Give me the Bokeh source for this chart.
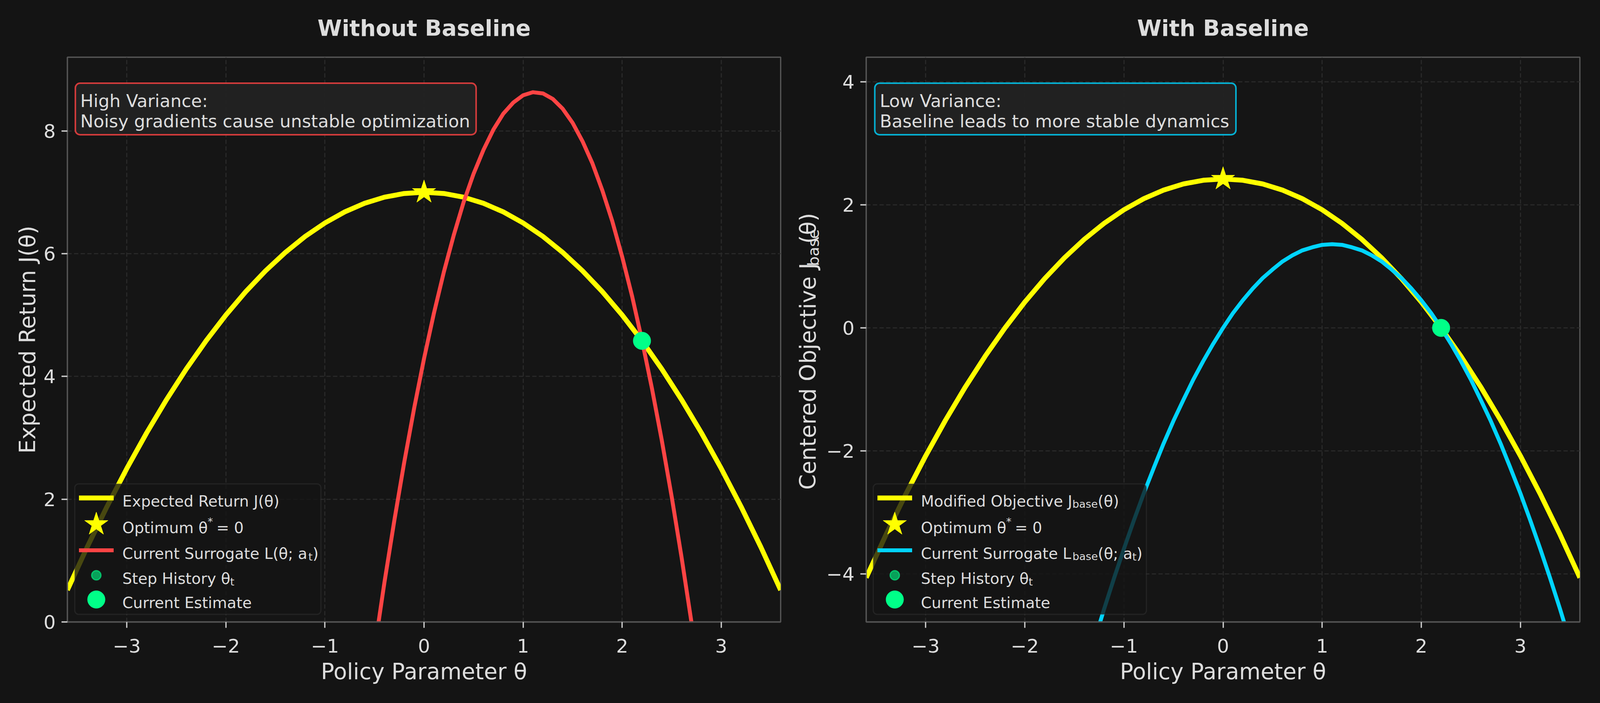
import math

from bokeh.plotting import figure
from bokeh.models import Label, BoxAnnotation, FixedTicker, Range1d
from bokeh.layouts import row, column
from bokeh.embed import file_html
from bokeh.resources import INLINE

# ---- data ----
theta_grid = [-3.6, -3.4, -3.2, -3.0, -2.8, -2.6, -2.4, -2.2, -2.0, -1.8, -1.6, -1.4,
              -1.2, -1.0, -0.8, -0.6, -0.4, -0.2, 0.0, 0.2, 0.4, 0.6, 0.8, 1.0,
              1.2, 1.4, 1.6, 1.8, 2.0, 2.2, 2.4, 2.6, 2.8, 3.0, 3.2, 3.4, 3.6]
expected_return = [0.52, 1.22, 1.88, 2.50, 3.08, 3.62, 4.12, 4.58, 5.00, 5.38, 5.72, 6.02,
                   6.28, 6.50, 6.68, 6.82, 6.92, 6.98, 7.00, 6.98, 6.92, 6.82, 6.68, 6.50,
                   6.28, 6.02, 5.72, 5.38, 5.00, 4.58, 4.12, 3.62, 3.08, 2.50, 1.88, 1.22, 0.52]
centered_objective = [-4.06, -3.36, -2.70, -2.08, -1.50, -0.96, -0.46, 0.00, 0.42, 0.80, 1.14, 1.44,
                      1.70, 1.92, 2.10, 2.24, 2.34, 2.40, 2.42, 2.40, 2.34, 2.24, 2.10, 1.92,
                      1.70, 1.44, 1.14, 0.80, 0.42, 0.00, -0.46, -0.96, -1.50, -2.08, -2.70, -3.36, -4.06]

surrogate_theta = [-0.5, -0.4, -0.3, -0.2, -0.1, 0.0, 0.1, 0.2, 0.3, 0.4, 0.5, 0.6,
                   0.7, 0.8, 0.9, 1.0, 1.1, 1.2, 1.3, 1.4, 1.5, 1.6, 1.7, 1.8,
                   1.9, 2.0, 2.1, 2.2, 2.3, 2.4, 2.5, 2.6, 2.7, 2.8]
surrogate_noisy = [-0.45, 0.64, 1.65, 2.60, 3.48, 4.29, 5.03, 5.70, 6.30, 6.84, 7.30, 7.69,
                   8.02, 8.28, 8.46, 8.58, 8.63, 8.61, 8.52, 8.36, 8.13, 7.83, 7.47, 7.03,
                   6.53, 5.95, 5.31, 4.59, 3.81, 2.96, 2.04, 1.05, -0.01, -1.14]

surrogate_base_theta = [-1.3, -1.2, -1.1, -1.0, -0.9, -0.8, -0.7, -0.6, -0.5, -0.4, -0.3, -0.2,
                        -0.1, 0.0, 0.1, 0.2, 0.3, 0.4, 0.5, 0.6, 0.7, 0.8, 0.9, 1.0,
                        1.1, 1.2, 1.3, 1.4, 1.5, 1.6, 1.7, 1.8, 1.9, 2.0, 2.1, 2.2,
                        2.3, 2.4, 2.5, 2.6, 2.7, 2.8, 2.9, 3.0, 3.1, 3.2, 3.3, 3.4, 3.5]
surrogate_base = [-5.10, -4.57, -4.07, -3.59, -3.13, -2.69, -2.28, -1.88, -1.51, -1.17, -0.84, -0.54,
                  -0.26, 0.00, 0.24, 0.45, 0.64, 0.81, 0.95, 1.08, 1.18, 1.26, 1.31, 1.35,
                  1.36, 1.35, 1.31, 1.26, 1.18, 1.08, 0.95, 0.81, 0.64, 0.45, 0.24, 0.00,
                  -0.26, -0.54, -0.84, -1.17, -1.51, -1.88, -2.28, -2.69, -3.13, -3.59, -4.07, -4.57, -5.10]

optimum_theta = [0.0]
optimum_return = [7.00]
optimum_centered = [2.42]
history_theta = [2.2]
history_return = [4.58]
history_centered = [0.00]
current_theta = [2.2]
current_return = [4.58]
current_centered = [0.00]

x_ticks = [-3, -2, -1, 0, 1, 2, 3]
x_tick_labels = ["\u22123", "\u22122", "\u22121", "0", "1", "2", "3"]
left_y_ticks = [0, 2, 4, 6, 8]
left_y_labels = ["0", "2", "4", "6", "8"]
right_y_ticks = [-4, -2, 0, 2, 4]
right_y_labels = ["\u22124", "\u22122", "0", "2", "4"]

# ---- style ----
FONT = "DejaVu Sans"
BG = "#141414"
TXT = "#dddddd"
YELLOW = "#ffff00"
RED = "#ff4444"
CYAN = "#00d4ff"
GREEN = "#00ff88"

# the page comes out 4096 px wide, so horizontal reference pixels are scaled by K
K = 4096 / 4200.0


def k(v):
    return v * K


def px(v):
    return "%.1fpx" % (v * K)


# canvases on the page (page px): banner on top, then left plot | label strip | right plot
BANNER = dict(x0=8, y0=8, w=4080, h=120)
LEFT_C = dict(x0=8, y0=128, w=2003, h=1660)
STRIP_C = dict(x0=2011, y0=128, w=105, h=1660)
RIGHT_C = dict(x0=2116, y0=128, w=1972, h=1660)

# frames (page px) with their data extents
LEFT = dict(x0=180, y0=154, w=1826, h=1446, x=(-3.6, 3.6), y=(0.0, 9.2))
RIGHT = dict(x0=2225, y0=154, w=1827, h=1446, x=(-3.6, 3.6), y=(-4.78, 4.40))

# DejaVu Sans advance widths (em) for laying out sub/superscript pieces
CHAR_EM = {" ": .318, "(": .390, ")": .390, "*": .500, ";": .337, "=": .838, ":": .337,
           "C": .698, "E": .632, "H": .752, "J": .295, "L": .557, "M": .863, "O": .787,
           "R": .695, "S": .635, "a": .613, "b": .635, "c": .550, "d": .635, "e": .615,
           "f": .352, "g": .635, "i": .278, "j": .278, "l": .278, "m": .974, "n": .634,
           "o": .612, "p": .635, "r": .411, "s": .521, "t": .392, "u": .634, "v": .592,
           "x": .592, "y": .592, "\u03b8": .602, "0": .636}


def text_width(s, size):
    return sum(CHAR_EM.get(c, .6) for c in s) * size


def frame_conv(f):
    # reference px -> data coordinates of a frame
    def conv(rx, ry):
        x = f["x"][0] + (k(rx) - f["x0"]) * (f["x"][1] - f["x"][0]) / f["w"]
        y = f["y"][1] - (ry - f["y0"]) * (f["y"][1] - f["y"][0]) / f["h"]
        return x, y
    return conv


def canvas_conv(cv):
    def conv(rx, ry):
        return k(rx) - cv["x0"], ry - cv["y0"]
    return conv


def put_text(p, conv, rx, ry, pieces, size, rotated=False, align="left", style="normal"):
    # pieces: (text, scale, shift in em, positive = down); positions in reference px
    pos = 0.0
    for text, scale, shift in pieces:
        fs = size * scale
        w = text_width(text, fs)
        if not rotated:
            x, y = conv(rx + pos, ry + shift * size - 0.15 * size)
            extra = dict(text_align=align, text_baseline="alphabetic")
        else:
            # each rotated piece anchored near its own centre, reading upwards
            x, y = conv(rx + shift * size - 0.35 * fs, ry - pos - w / 2 + 1.8 * fs)
            extra = dict(text_align="center", text_baseline="middle", angle=math.pi / 2)
        p.add_layout(Label(x=x, y=y, text=text, text_font=FONT, text_font_size=px(fs),
                           text_font_style=style, text_color=TXT, level="overlay", **extra))
        pos += w


def blank(cv):
    # plain canvas whose frame fills it, used for texts outside the plot frames
    b = figure(width=cv["w"], height=cv["h"], x_range=Range1d(0, cv["w"]), y_range=Range1d(cv["h"], 0),
               toolbar_location=None, tools="", output_backend="svg", title=None,
               x_axis_location=None, y_axis_location=None, min_border=0)
    b.grid.visible = False
    b.outline_line_color = None
    b.background_fill_color = BG
    b.border_fill_color = BG
    return b


def make_axes(cv, f, y_ticks, y_labels):
    bl = f["x0"] - cv["x0"]
    bt = f["y0"] - cv["y0"]
    p = figure(width=cv["w"], height=cv["h"],
               x_range=Range1d(*f["x"]), y_range=Range1d(*f["y"]),
               toolbar_location=None, tools="", output_backend="svg", title=None,
               min_border_left=bl, min_border_right=cv["w"] - bl - f["w"],
               min_border_top=bt, min_border_bottom=cv["h"] - bt - f["h"])
    p.background_fill_color = "#151515"
    p.border_fill_color = BG
    p.outline_line_color = "#555555"
    p.outline_line_width = 3.3

    p.xaxis.ticker = FixedTicker(ticks=x_ticks)
    p.xaxis.major_label_overrides = dict(zip(x_ticks, x_tick_labels))
    p.yaxis.ticker = FixedTicker(ticks=y_ticks)
    p.yaxis.major_label_overrides = dict(zip(y_ticks, y_labels))
    for ax in (p.xaxis, p.yaxis):
        ax.axis_line_color = "#555555"
        ax.axis_line_width = 3.3
        ax.major_tick_line_color = "#cccccc"
        ax.major_tick_line_width = 3.3
        ax.major_tick_out = 15
        ax.major_tick_in = 0
        ax.minor_tick_line_color = None
        ax.major_label_text_font = FONT
        ax.major_label_text_font_size = px(50)
        ax.major_label_text_color = TXT
        ax.axis_label_text_font = FONT
        ax.axis_label_text_font_size = px(58)
        ax.axis_label_text_font_style = "normal"
        ax.axis_label_text_color = TXT
    p.xaxis.major_label_standoff = 28
    p.yaxis.major_label_standoff = 15
    p.xaxis.axis_label = "Policy Parameter \u03b8"
    p.xaxis.axis_label_standoff = 12

    for g in (p.xgrid, p.ygrid):
        g.grid_line_color = "#282828"
        g.grid_line_width = 3
        g.grid_line_dash = "11 6"
    p.xgrid.ticker = FixedTicker(ticks=x_ticks)
    p.ygrid.ticker = FixedTicker(ticks=y_ticks)
    return p


def note_box(p, f, x0, x1, lines, edge):
    conv = frame_conv(f)
    l, t = conv(x0, 220.6)
    r, b = conv(x1, 352.4)
    p.add_layout(BoxAnnotation(left=l, right=r, top=t, bottom=b,
                               fill_color="#222222", fill_alpha=0.95,
                               line_color=edge, line_alpha=0.8, line_width=4,
                               border_radius=12, level="overlay"))
    for line, base in zip(lines, (273, 325)):
        put_text(p, conv, x0 + 13, base, [(line, 1.0, 0.0)], 46)


def legend(p, f, fx0, right_edge, entries):
    # fx0: left edge of the frame in reference px
    conv = frame_conv(f)
    l, t = conv(fx0 + 19, 1246.5)
    r, b = conv(fx0 + right_edge, 1580.5)
    p.add_layout(BoxAnnotation(left=l, right=r, top=t, bottom=b,
                               fill_color="#151515", fill_alpha=0.78,
                               line_color="#4a4a4a", line_width=3,
                               border_radius=10))
    rows = [1282.5, 1350, 1416.5, 1480.5, 1542.5]
    for (kind, color, pieces), ry in zip(entries, rows):
        xa, yy = conv(fx0 + 30, ry)
        xb, _ = conv(fx0 + 121, ry)
        xm, _ = conv(fx0 + 75.5, ry)
        if kind == "thick":
            p.line([xa, xb], [yy, yy], line_color=color, line_width=12.5, level="overlay")
        elif kind == "thin":
            p.line([xa, xb], [yy, yy], line_color=color, line_width=10, level="overlay")
        elif kind == "star":
            p.scatter([xm], [yy], marker="star", size=63, color=color, level="overlay")
        elif kind == "small":
            p.scatter([xm], [yy], size=24, fill_color=color, fill_alpha=0.6,
                      line_color=color, line_alpha=0.6, line_width=3, level="overlay")
        else:
            p.scatter([xm], [yy], size=45, color=color, level="overlay")
        put_text(p, conv, fx0 + 144, ry + 14.6, pieces, 40)


def draw_curves(p, objective, optimum, history, current, surr_theta, surr, surr_color):
    p.line(theta_grid, objective, line_color=YELLOW, line_width=12.5)
    p.line(surr_theta, surr, line_color=surr_color, line_width=10)
    p.scatter(optimum_theta, optimum, marker="star", size=63, color=YELLOW)
    p.scatter(history_theta, history, size=24, fill_color=GREEN, fill_alpha=0.6,
              line_color=GREEN, line_alpha=0.6, line_width=3)
    p.scatter(current_theta, current, size=45, color=GREEN)


OPTIMUM_PIECES = [("Optimum \u03b8", 1.0, 0.0), (" *", 0.7, -0.38), ("  = 0", 1.0, 0.0)]

# ---- banner with the two panel titles ----
banner = blank(BANNER)
put_text(banner, canvas_conv(BANNER), 1121, 88, [("Without Baseline", 1.0, 0.0)], 58,
         align="center", style="bold")
put_text(banner, canvas_conv(BANNER), 3218, 88, [("With Baseline", 1.0, 0.0)], 58,
         align="center", style="bold")

# ---- left panel: without baseline ----
left = make_axes(LEFT_C, LEFT, left_y_ticks, left_y_labels)
left.yaxis.axis_label = "Expected Return J(\u03b8)"
left.yaxis.axis_label_standoff = 5
draw_curves(left, expected_return, optimum_return, history_return, current_return,
            surrogate_theta, surrogate_noisy, RED)
note_box(left, LEFT, 205.5, 1257.5, ["High Variance:", "Noisy gradients cause unstable optimization"], RED)
legend(left, LEFT, 185, 665, [
    ("thick", YELLOW, [("Expected Return J(\u03b8)", 1.0, 0.0)]),
    ("star", YELLOW, OPTIMUM_PIECES),
    ("thin", RED, [("Current Surrogate L(\u03b8; a", 1.0, 0.0), ("t", 0.7, 0.2), (")", 1.0, 0.0)]),
    ("small", GREEN, [("Step History \u03b8", 1.0, 0.0), ("t", 0.7, 0.2)]),
    ("big", GREEN, [("Current Estimate", 1.0, 0.0)]),
])

# ---- strip between the panels holding the rotated y label of the right panel ----
strip = blank(STRIP_C)
put_text(strip, canvas_conv(STRIP_C), 2149, 1260,
         [("Centered Objective J", 1.0, 0.0), ("base", 0.7, 0.14), ("(\u03b8)", 1.0, 0.0)],
         58, rotated=True)

# ---- right panel: with baseline ----
right = make_axes(RIGHT_C, RIGHT, right_y_ticks, right_y_labels)
draw_curves(right, centered_objective, optimum_centered, history_centered, current_centered,
            surrogate_base_theta, surrogate_base, CYAN)
note_box(right, RIGHT, 2304, 3252, ["Low Variance:", "Baseline leads to more stable dynamics"], CYAN)
legend(right, RIGHT, 2281, 736, [
    ("thick", YELLOW, [("Modified Objective J", 1.0, 0.0), ("base", 0.7, 0.16), ("(\u03b8)", 1.0, 0.0)]),
    ("star", YELLOW, OPTIMUM_PIECES),
    ("thin", CYAN, [("Current Surrogate L", 1.0, 0.0), ("base", 0.7, 0.16), ("(\u03b8; a", 1.0, 0.0),
                    ("t", 0.7, 0.2), (")", 1.0, 0.0)]),
    ("small", GREEN, [("Step History \u03b8", 1.0, 0.0), ("t", 0.7, 0.2)]),
    ("big", GREEN, [("Current Estimate", 1.0, 0.0)]),
])

p = column(banner, row(left, strip, right))

html = file_html(p, INLINE)
html = html.replace("<head>", "<head><style>html, body {background: #141414;}</style>", 1)
open("out.html", "w").write(html)
